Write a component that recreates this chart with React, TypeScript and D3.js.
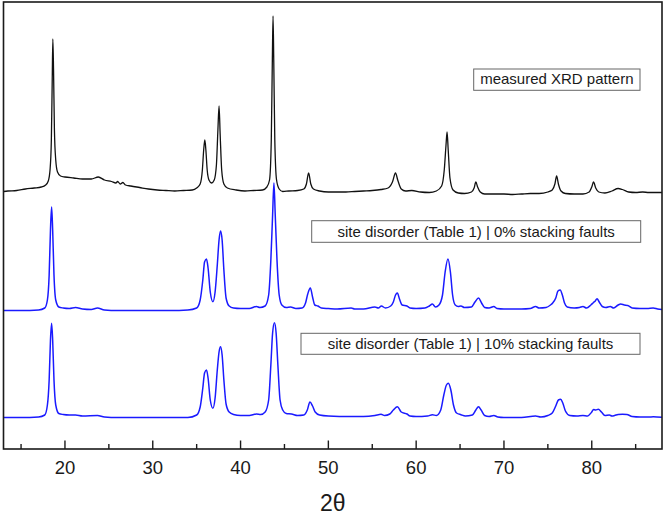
import React from "react";
import * as d3 from "d3";

// [2θ (deg), intensity (a.u., stacked)]
const measured: [number, number][] = [
  [13.0, 257.5], [13.5, 258], [14.5, 258.5], [15.5, 260], [16.5, 261], [17.3, 262], [17.8, 264],
  [18.1, 268], [18.3, 279], [18.45, 309], [18.55, 369], [18.62, 410], [18.7, 379], [18.8, 319],
  [18.95, 289], [19.15, 277], [19.5, 273], [20.0, 272], [21.0, 271], [22.0, 270], [23.0, 270],
  [23.8, 272], [24.5, 269], [25.3, 267.5], [25.8, 266], [26.0, 267.5], [26.3, 265], [26.6, 266.5],
  [26.9, 264], [27.5, 263], [28.5, 261.5], [29.5, 260], [30.5, 259], [31.5, 258.5], [32.5, 258],
  [33.5, 258.5], [34.5, 259], [35.0, 261], [35.4, 265], [35.65, 279], [35.8, 299], [35.93, 309],
  [36.05, 299], [36.2, 279], [36.4, 269], [36.7, 266], [37.0, 269], [37.25, 284], [37.42, 319],
  [37.55, 343], [37.68, 314], [37.85, 279], [38.1, 265], [38.5, 261], [39.5, 259], [40.5, 258],
  [41.5, 258.5], [42.5, 259], [43.0, 262], [43.3, 269], [43.5, 309], [43.62, 389], [43.7, 433],
  [43.78, 389], [43.9, 309], [44.1, 269], [44.4, 260], [44.8, 257.5], [45.5, 258], [46.5, 258.5],
  [47.2, 260], [47.5, 265], [47.75, 276], [48.0, 265], [48.3, 260], [49, 258], [50, 257], [51, 257],
  [52, 257], [53, 257.5], [54, 258], [55, 258.5], [56, 259.5], [56.8, 261], [57.3, 267],
  [57.65, 276], [57.9, 269], [58.3, 260], [58.8, 258], [59.5, 258.5], [60.5, 257], [61.5, 256.5],
  [62.3, 258], [62.9, 263], [63.2, 279], [63.4, 304], [63.52, 317], [63.65, 299], [63.85, 271],
  [64.2, 259], [64.8, 256], [65.5, 255.5], [66.3, 257], [66.6, 261], [66.8, 267], [67.0, 262],
  [67.3, 257], [67.8, 255], [69, 255], [70, 255], [71, 254.5], [72, 255], [73, 255.5], [74, 255.5],
  [75, 257], [75.5, 259], [75.8, 265], [76.0, 273], [76.2, 265], [76.5, 258], [77, 255.5],
  [78, 255], [79, 255], [79.7, 257], [80.0, 262], [80.2, 267], [80.45, 261], [80.8, 257],
  [81.5, 256], [82.3, 258], [83.0, 260.5], [83.5, 259.5], [84.2, 257], [85, 256.5], [85.8, 257],
  [86.5, 256.5], [87.2, 256.5], [88, 256.5],
];

const sim0: [number, number][] = [
  [13.0, 138.5], [15, 138.5], [17, 139], [17.7, 141], [18.0, 149], [18.2, 174], [18.35, 219],
  [18.48, 242], [18.6, 219], [18.75, 174], [18.95, 149], [19.3, 142], [19.8, 141], [20.5, 140.5],
  [21.2, 141.5], [22, 140], [23, 139.5], [23.7, 141], [24.5, 139], [26, 138.5], [28, 138.5],
  [30, 138.5], [32, 138.5], [34, 139], [35.0, 141], [35.4, 149], [35.7, 169], [35.9, 187],
  [36.12, 190], [36.3, 181], [36.55, 157], [36.85, 147.3], [37.1, 157], [37.35, 184], [37.55, 209],
  [37.72, 218], [37.9, 209], [38.1, 179], [38.35, 151], [38.7, 143], [39.2, 141], [40, 140.5],
  [41, 140.5], [41.8, 142.5], [42.2, 141.5], [42.8, 143], [43.2, 154], [43.45, 189], [43.65, 234],
  [43.8, 266], [43.95, 234], [44.15, 189], [44.4, 154], [44.7, 144], [45.2, 141.5], [45.7, 142],
  [46.3, 140.5], [47.0, 141], [47.4, 146], [47.65, 155], [47.95, 161], [48.2, 152], [48.45, 144],
  [48.8, 143], [49.2, 141], [50, 140.5], [51, 140], [52.6, 141], [53, 140], [54, 140], [55.3, 142],
  [55.7, 141], [56.04, 143], [56.5, 141], [57.1, 143], [57.4, 147], [57.65, 154], [57.86, 156],
  [58.1, 150], [58.4, 144], [58.95, 143], [59.3, 141], [60, 140.5], [61, 141], [61.5, 143],
  [61.85, 145], [62.2, 142], [62.6, 144], [63.0, 154], [63.3, 177], [63.62, 190], [63.9, 177],
  [64.15, 154], [64.45, 144], [64.8, 142.5], [65.1, 143], [65.5, 141.5], [66.3, 142], [66.7, 147],
  [67.1, 151], [67.45, 146], [67.8, 141.5], [68.3, 141], [68.85, 142.5], [69.2, 140.5], [70, 140],
  [72, 140], [73, 140.5], [73.6, 142.5], [74.0, 141], [74.8, 141.5], [75.3, 144], [75.55, 146],
  [75.9, 151], [76.15, 158], [76.4, 159], [76.65, 154], [76.9, 146], [77.2, 142], [78, 141],
  [78.6, 141.5], [79.0, 142.5], [79.4, 141], [79.9, 144], [80.2, 146.5], [80.4, 148], [80.6, 150.3],
  [80.85, 147], [81.2, 142.5], [81.6, 141.5], [82.1, 142.5], [82.5, 141], [83.0, 144], [83.3, 145],
  [83.7, 144], [84.1, 143.5], [84.6, 141], [85.5, 140.5], [86.3, 140.5], [87.0, 141], [87.5, 140],
  [88, 139.5],
];

const sim10: [number, number][] = [
  [13, 31.5], [15, 31.5], [17, 32], [17.7, 34], [18.0, 44], [18.2, 69], [18.35, 109], [18.48, 125.7],
  [18.6, 109], [18.75, 69], [18.95, 44], [19.3, 35.5], [19.8, 34.5], [20.5, 34], [21.2, 34],
  [22, 33], [23.7, 33.5], [24.5, 32], [26, 31.5], [30, 31.5], [34, 31.5], [35.0, 34], [35.4, 42],
  [35.7, 61], [35.9, 76], [36.12, 79], [36.3, 71], [36.55, 49], [36.85, 40.7], [37.1, 51],
  [37.35, 79], [37.55, 97], [37.72, 102.3], [37.9, 94], [38.1, 69], [38.35, 45], [38.7, 37],
  [39.2, 34.5], [40, 33.5], [41, 33.5], [41.8, 35], [42.3, 34.5], [42.8, 37], [43.2, 49],
  [43.45, 84], [43.65, 116], [43.86, 126.3], [44.05, 116], [44.25, 84], [44.5, 49], [44.8, 39],
  [45.2, 35.5], [45.8, 35], [46.5, 33.5], [47.2, 34], [47.6, 39], [47.9, 47], [48.2, 43],
  [48.5, 37], [49, 34], [50, 33], [52.5, 32.5], [54, 32.5], [55.3, 33.5], [56.0, 34.7],
  [56.4, 33.5], [57.0, 35], [57.4, 39], [57.86, 42.3], [58.3, 37], [58.95, 35], [59.3, 33],
  [60, 32.5], [61.3, 33], [61.85, 34.3], [62.3, 33.5], [62.8, 39], [63.15, 54], [63.45, 64],
  [63.67, 65.7], [63.95, 59], [64.25, 44], [64.6, 36], [65.1, 34.3], [65.6, 33], [66.4, 34],
  [66.8, 39], [67.1, 42.3], [67.4, 39], [67.8, 33.5], [68.3, 32.5], [68.85, 33.5], [69.3, 32],
  [70, 31.5], [72, 31.5], [73.6, 33], [74.2, 32], [75, 33.5], [75.5, 36], [75.9, 43], [76.2, 49],
  [76.45, 49.7], [76.7, 46], [77.0, 38], [77.5, 33.5], [78.3, 33], [79.0, 33.5], [79.5, 33],
  [80.0, 37], [80.2, 39.5], [80.45, 39], [80.75, 39.7], [81.1, 37], [81.5, 33.5], [82.0, 34],
  [82.3, 33], [82.6, 33.5], [83.0, 34.5], [83.5, 34.7], [84.0, 34.5], [84.6, 32.5], [85.5, 32],
  [86.5, 32], [87, 32.2], [88, 31.7],
];

const majorTicks = [20, 30, 40, 50, 60, 70, 80];
const minorTicks = [15, 25, 35, 45, 55, 65, 75, 85];
const xDomain: [number, number] = [13, 88];
const yDomain: [number, number] = [0, 447];
const xTitle = "2θ";
const legendLabels = [
  "measured XRD pattern",
  "site disorder (Table 1) | 0% stacking faults",
  "site disorder (Table 1) | 10% stacking faults",
];

const W = 666;
const H = 515;
const PL = 3.5, PR = 662, PT = 2, PB = 449;
const FONT = "'Liberation Sans', Arial, Helvetica, sans-serif";

export default function App() {
  const x = d3.scaleLinear().domain(xDomain).range([PL, PR]);
  const y = d3.scaleLinear().domain(yDomain).range([PB, PT]);
  const line = d3
    .line<[number, number]>()
    .x((d) => x(d[0]))
    .y((d) => y(d[1]))
    .curve(d3.curveMonotoneX);

  const boxes = [
    { x0: 473.7, x1: 640, y0: 69, y1: 90.3, base: 84.3 },
    { x0: 311.7, x1: 640.7, y0: 220.7, y1: 242.3, base: 236.7 },
    { x0: 301, x1: 640, y0: 333.3, y1: 354.3, base: 349 },
  ];

  return (
    <svg
      width={W}
      height={H}
      style={{ position: "absolute", left: 0, top: 0, background: "#fff" }}
      fontFamily={FONT}
    >
      <defs>
        <clipPath id="plotClip">
          <rect x={PL} y={PT} width={PR - PL} height={PB - PT} />
        </clipPath>
      </defs>
      <rect x={0} y={0} width={W} height={H} fill="#fff" />
      <g clipPath="url(#plotClip)">
        <path d={line(measured) || ""} fill="none" stroke="#111" strokeWidth={1.3} strokeLinejoin="round" />
        <path d={line(sim0) || ""} fill="none" stroke="#1a1aff" strokeWidth={1.5} strokeLinejoin="round" />
        <path d={line(sim10) || ""} fill="none" stroke="#1a1aff" strokeWidth={1.5} strokeLinejoin="round" />
      </g>
      {boxes.map((b, i) => (
        <g key={i}>
          <rect x={b.x0} y={b.y0} width={b.x1 - b.x0} height={b.y1 - b.y0} fill="#fff" stroke="#666" strokeWidth={1} />
          <text x={(b.x0 + b.x1) / 2} y={b.base} textAnchor="middle" fontSize={15} fill="#1a1a1a">
            {legendLabels[i]}
          </text>
        </g>
      ))}
      <rect x={PL} y={PT} width={PR - PL} height={PB - PT} fill="none" stroke="#1a1a1a" strokeWidth={1.6} />
      {majorTicks.map((t) => (
        <g key={"M" + t}>
          <line x1={x(t)} x2={x(t)} y1={PB} y2={PB - 8.5} stroke="#1a1a1a" strokeWidth={1.4} />
          <text x={x(t)} y={474.3} textAnchor="middle" fontSize={18.5} fill="#1a1a1a">
            {t}
          </text>
        </g>
      ))}
      {minorTicks.map((t) => (
        <line key={"m" + t} x1={x(t)} x2={x(t)} y1={PB} y2={PB - 5} stroke="#1a1a1a" strokeWidth={1.4} />
      ))}
      <text x={(PL + PR) / 2} y={511} textAnchor="middle" fontSize={23} fill="#1a1a1a">
        {xTitle}
      </text>
    </svg>
  );
}
